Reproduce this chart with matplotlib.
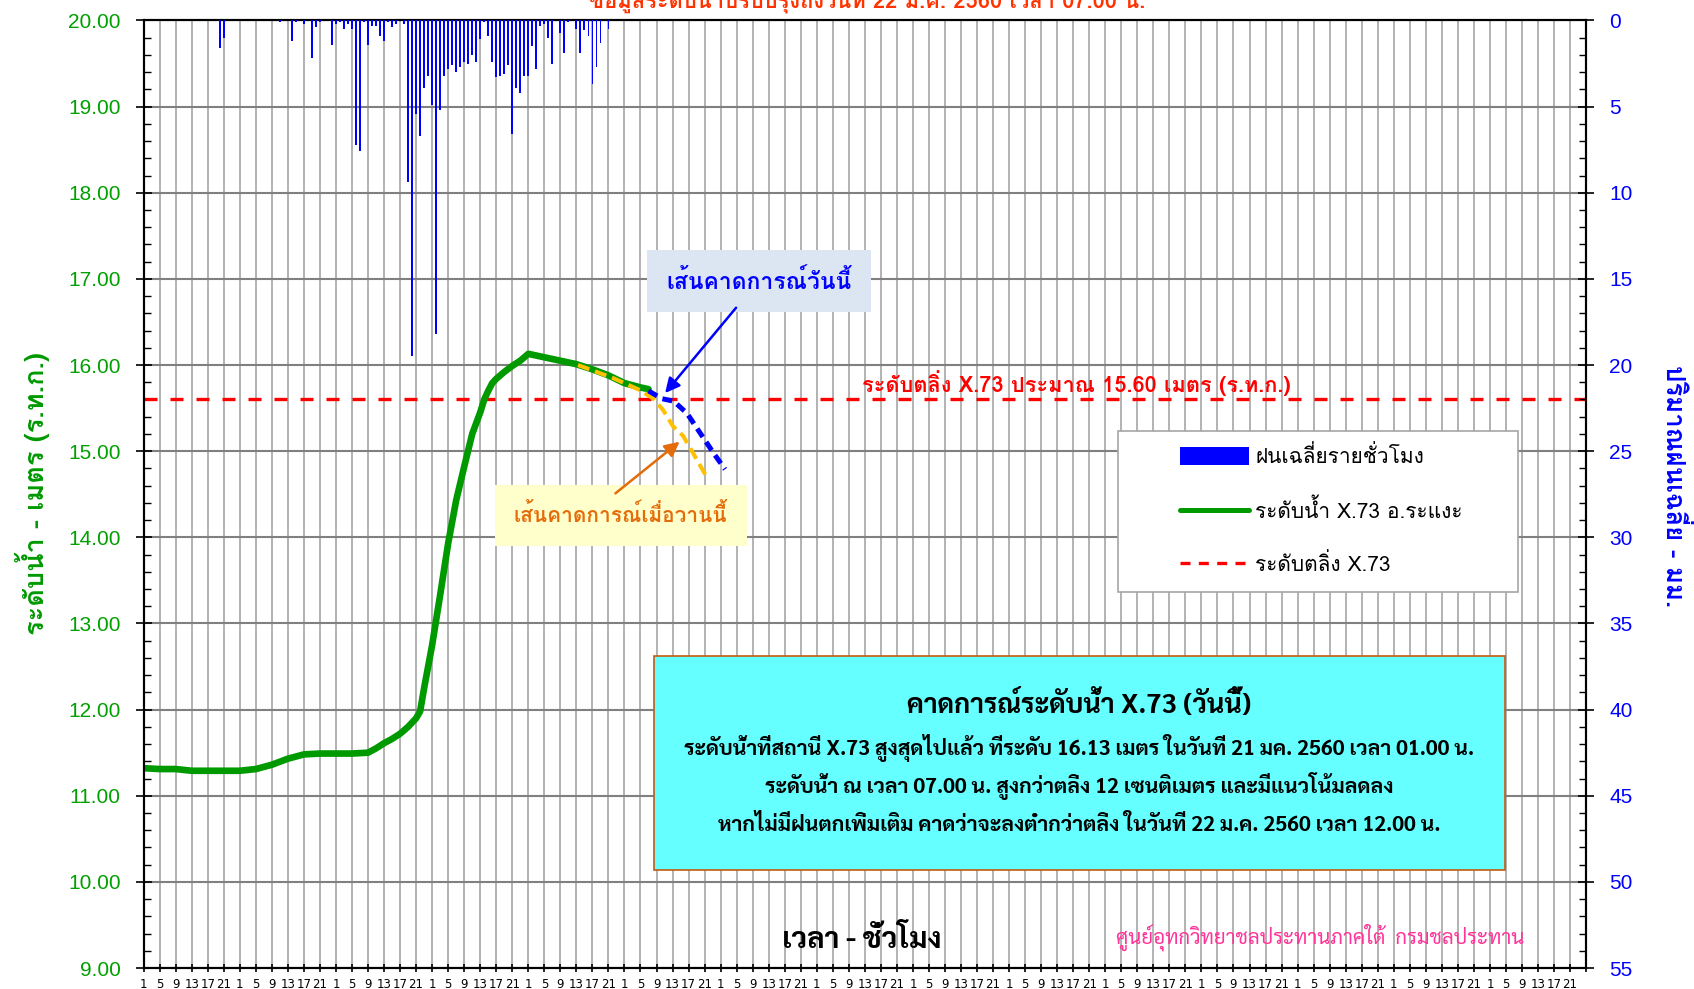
import matplotlib
matplotlib.use('Agg')
import matplotlib.pyplot as plt
from matplotlib.patches import Rectangle, Patch
from matplotlib.lines import Line2D

LOMA = ['Loma', 'DejaVu Sans']
NARROW = ['Sarabun', 'Loma', 'DejaVu Sans']
plt.rcParams['font.family'] = LOMA

# x = hours counted from 17 ม.ค. 2560 01.00 น. (15 days shown)
n_days = 15
level_hours = [0, 4, 8, 12, 16, 20, 24, 28, 32, 36, 40, 44, 48, 52, 56, 58, 60, 62, 64, 66,
               68, 69, 70, 72, 74, 76, 78, 80, 82, 84, 85, 86, 87, 88, 90, 92, 94, 96, 98,
               100, 104, 108, 112, 116, 120, 124, 126]
level_m = [11.32, 11.31, 11.31, 11.29, 11.29, 11.29, 11.29, 11.31, 11.36, 11.43, 11.48, 11.49,
           11.49, 11.49, 11.50, 11.55, 11.61, 11.66, 11.72, 11.80, 11.90, 11.98, 12.25, 12.75,
           13.33, 13.93, 14.43, 14.82, 15.20, 15.45, 15.60, 15.70, 15.79, 15.84, 15.92, 15.99,
           16.05, 16.13, 16.11, 16.09, 16.05, 16.01, 15.95, 15.88, 15.79, 15.74, 15.72]

# forecast made today (blue) and yesterday (yellow)
today_fc_hours = [126, 129.3, 132.3, 135.6, 138.9, 142.2, 145.1]
today_fc_m = [15.70, 15.61, 15.58, 15.44, 15.21, 14.98, 14.79]
yday_fc_hours = [108.4, 117.1, 123.8, 127.2, 129.6, 132.1, 134.6, 137.1, 140.4]
yday_fc_m = [16.00, 15.85, 15.71, 15.61, 15.48, 15.29, 15.18, 14.98, 14.71]

# hourly average rainfall (mm)
rain_hours = [19, 20, 34, 37, 38, 40, 42, 43, 44, 47, 48, 49, 50, 51, 52, 53, 54, 55, 56, 57,
              58, 59, 60, 61, 62, 63, 65, 66, 67, 68, 69, 70, 71, 72, 73, 74, 75, 76, 77, 78,
              79, 80, 81, 82, 83, 84, 85, 86, 87, 88, 89, 90, 91, 92, 93, 94, 95, 96, 97, 98,
              99, 100, 101, 102, 104, 105, 106, 108, 109, 110, 111, 112, 113, 114, 116]
rain_mm = [1.6, 1.0, 0.1, 1.2, 0.1, 0.2, 2.2, 0.4, 0.1, 1.4, 0.2, 0.1, 0.5, 0.2, 0.5, 7.2, 7.6,
           0.1, 1.4, 0.3, 0.3, 0.9, 1.2, 0.1, 0.4, 0.2, 0.2, 9.4, 19.5, 5.4, 6.7, 3.9, 3.2, 4.9,
           18.2, 5.2, 3.2, 2.8, 2.6, 3.0, 2.7, 2.4, 2.5, 2.0, 2.4, 1.1, 0.1, 0.9, 2.4, 3.3, 3.2,
           3.1, 2.6, 6.6, 3.9, 4.2, 3.2, 3.2, 1.5, 2.8, 0.3, 0.2, 1.0, 2.5, 0.7, 1.9, 0.1, 0.5,
           1.9, 0.55, 0.9, 3.7, 2.7, 1.3, 0.5]

bank_level = 15.60

fig = plt.figure(figsize=(16.94, 9.89), dpi=100)
ax = fig.add_axes([0.0848, 0.0212, 0.8515, 0.9581])
ax2 = ax.twinx()

green = '#009900'

# water level and forecasts
ax.plot(level_hours, level_m, color=green, lw=4.8, solid_capstyle='round',
        solid_joinstyle='round', zorder=5)
ax.plot(yday_fc_hours, yday_fc_m, color='#ffc000', lw=2.9, dashes=(3, 1.5), zorder=6)
ax.plot(today_fc_hours, today_fc_m, color='#0000ff', lw=3.6, dashes=(2, 1.2), zorder=6)
ax.axhline(bank_level, color='#ff0000', lw=2.4, dashes=(3.9, 3.9), zorder=4)

# rainfall on inverted right axis
ax2.bar(rain_hours, rain_mm, width=0.45, color='#0000ff', zorder=3)
ax2.set_ylim(55, 0)
ax2.set_yticks(range(0, 56, 5))
ax2.set_yticks(range(0, 56, 1), minor=True)
ax2.tick_params(axis='y', which='major', direction='inout', length=11, width=1.2,
                labelsize=15, labelcolor='#0000ff', pad=11, labelfontfamily='Liberation Sans')
ax2.tick_params(axis='y', which='minor', direction='in', length=5, width=1)

ax.set_xlim(0, n_days * 24)
ax.set_ylim(9, 20)
xt = list(range(0, n_days * 24 + 1, 4))
ax.set_xticks(xt)
ax.set_xticklabels([str(h % 24 + 1) if h < n_days * 24 else '' for h in xt])
ax.tick_params(axis='x', direction='inout', length=6, width=1.2, labelsize=8.5, pad=4,
               labelfontfamily='Liberation Sans Narrow')
ax.set_yticks(range(9, 21))
ax.set_yticklabels(['%.2f' % v for v in range(9, 21)])
ax.set_yticks([9 + i * 0.2 for i in range(56)], minor=True)
ax.tick_params(axis='y', which='major', direction='inout', length=11, width=1.2,
               labelsize=15, labelcolor='#00a000', pad=11, labelfontfamily='Liberation Sans')
ax.tick_params(axis='y', which='minor', direction='in', length=5, width=1)

ax.grid(axis='x', color='#a6a6a6', lw=1.2)
ax.grid(axis='y', color='#808080', lw=1.5)
ax.set_axisbelow(True)
for a in (ax, ax2):
    for s in a.spines.values():
        s.set_linewidth(1.5)
        s.set_color('black')

# bank level label
ax.text(232.8, 15.79, 'ระดับตลิ่ง X.73 ประมาณ 15.60 เมตร (ร.ท.ก.)', color='#ff0000',
        fontsize=15.7, fontweight='bold', ha='center', va='center', zorder=7)

# forecast labels with arrows
ax.add_patch(Rectangle((125.6, 16.61), 56.0, 0.72, facecolor='#dce6f2', edgecolor='none', zorder=7))
ax.text(153.6, 16.98, 'เส้นคาดการณ์วันนี้', color='#0000ff', fontsize=16.5, fontweight='bold',
        ha='center', va='center', zorder=8)
ax.annotate('', xy=(129.7, 15.65), xytext=(148.3, 16.69),
            arrowprops=dict(arrowstyle='-|>', color='#0000ff', lw=1.8, mutation_scale=22), zorder=8)

ax.add_patch(Rectangle((87.6, 13.90), 63.1, 0.71, facecolor='#ffffcc', edgecolor='none', zorder=7))
ax.text(118.9, 14.27, 'เส้นคาดการณ์เมื่อวานนี้', color='#e46c0a', fontsize=15, fontweight='bold',
        ha='center', va='center', zorder=8)
ax.annotate('', xy=(134.3, 15.13), xytext=(117.2, 14.49),
            arrowprops=dict(arrowstyle='-|>', color='#e46c0a', lw=1.8, mutation_scale=22), zorder=8)

# legend
ax.add_patch(Rectangle((243.2, 13.37), 99.9, 1.86, facecolor='white', edgecolor='#a6a6a6',
                       lw=1.2, zorder=7))
handles = [Patch(facecolor='#0000ff', edgecolor='none'),
           Line2D([], [], color=green, lw=3.6, solid_capstyle='round'),
           Line2D([], [], color='#ff0000', lw=2.4, dashes=(3, 2.5))]
labels = ['ฝนเฉลี่ยรายชั่วโมง', 'ระดับน้ำ X.73 อ.ระแงะ', 'ระดับตลิ่ง X.73']
leg = ax.legend(handles, labels, loc='center left', bbox_to_anchor=(1180 / 1694, 1 - 510 / 989),
                bbox_transform=fig.transFigure, frameon=False, fontsize=15, borderpad=0,
                borderaxespad=0, handlelength=3.3, handleheight=0.95, handletextpad=0.32,
                labelspacing=1.5)
leg.set_zorder(8)

# forecast summary box
ax.add_patch(Rectangle((127.3, 10.14), 212.5, 2.48, facecolor='#66ffff', edgecolor='#c55a11',
                       lw=1.2, zorder=7))
box_lines = [
    'ระดับน้ำที่สถานี X.73 สูงสุดไปแล้ว ที่ระดับ 16.13 เมตร ในวันที่ 21 มค. 2560 เวลา 01.00 น.',
    'ระดับน้ำ ณ เวลา 07.00 น. สูงกว่าตลิ่ง 12 เซนติเมตร และมีแนวโน้มลดลง',
    'หากไม่มีฝนตกเพิ่มเติม คาดว่าจะลงต่ำกว่าตลิ่ง ในวันที่ 22 ม.ค. 2560 เวลา 12.00 น.',
]
ax.text(233.5, 12.06, 'คาดการณ์ระดับน้ำ X.73 (วันนี้)', family=NARROW, fontsize=19.4,
        fontweight='bold', ha='center', va='center', zorder=8)
for txt, yv in zip(box_lines, [11.56, 11.11, 10.66]):
    ax.text(233.5, yv, txt, family=NARROW, fontsize=15.2, fontweight='bold',
            ha='center', va='center', zorder=8)

# axis captions
ax.text(179.1, 9.315, 'เวลา - ชั่วโมง', family=NARROW, fontsize=21, fontweight='bold',
        ha='center', va='center', zorder=8)
ax.text(293.6, 9.36, 'ศูนย์อุทกวิทยาชลประทานภาคใต้  กรมชลประทาน', family=NARROW,
        color='#ff3399', fontsize=14.7, ha='center', va='center', zorder=8)
fig.text(33 / 1694, 0.501, 'ระดับน้ำ - เมตร (ร.ท.ก.)', rotation=90, color=green, fontsize=19.5,
         fontweight='bold', ha='center', va='center')
fig.text(1675 / 1694, 0.5086, 'ปริมาณฝนเฉลี่ย - มม.', rotation=270, color='#0000ff', fontsize=18.5,
         fontweight='bold', ha='center', va='center')
fig.text(867 / 1694, 1 - 7.5 / 989, 'ข้อมูลระดับน้ำปรับปรุงถึงวันที่ 22 ม.ค. 2560 เวลา 07.00 น.',
         color='#ff3300', fontsize=15.8, fontweight='bold', ha='center', va='baseline')

fig.savefig('out.png', dpi=100)
